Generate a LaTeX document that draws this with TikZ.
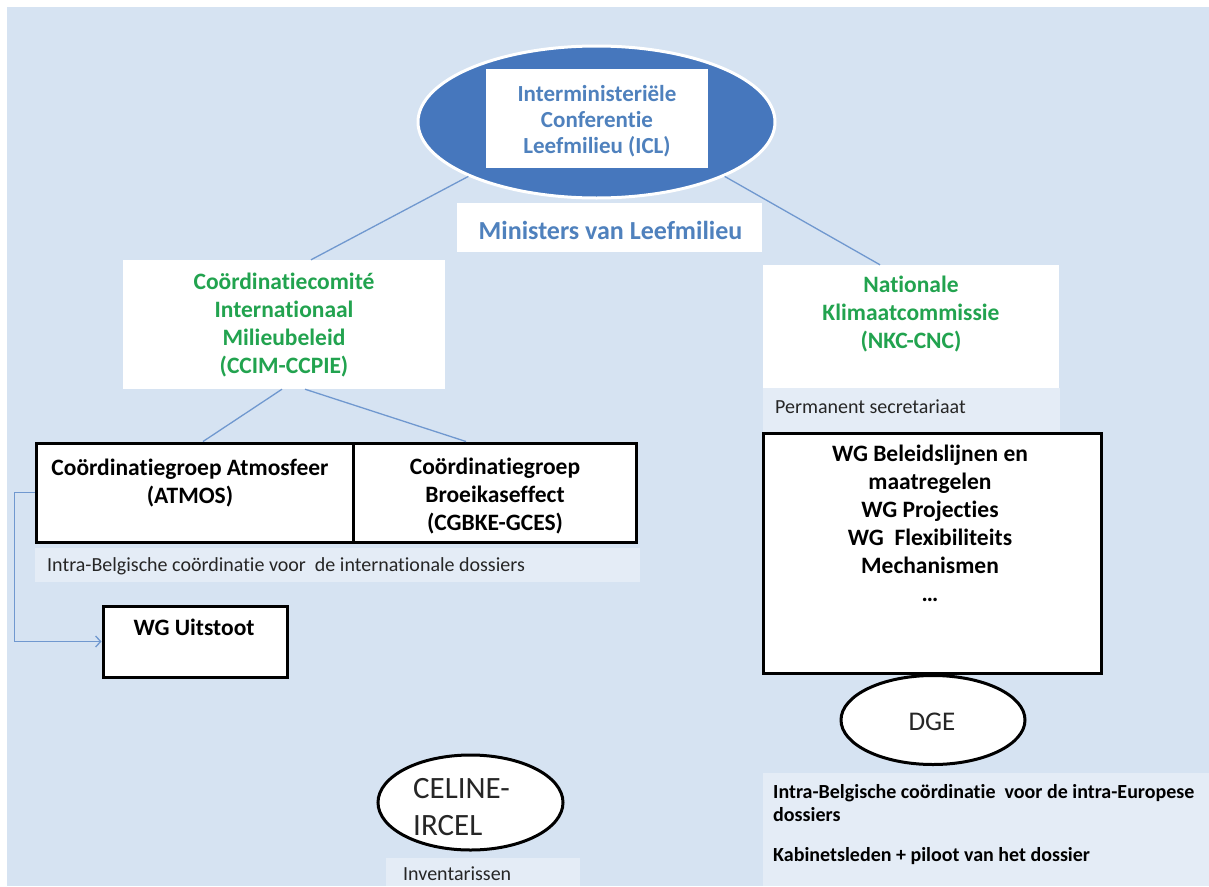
\documentclass[tikz,border=0pt]{standalone}
\usepackage{fontspec}
\setmainfont{Carlito}[Ligatures=NoCommon]
\usetikzlibrary{shapes.geometric,arrows.meta}
\definecolor{bgblue}{HTML}{D6E3F2}
\definecolor{ellblue}{HTML}{4677BD}
\definecolor{tblue}{HTML}{4F81BD}
\definecolor{tgreen}{HTML}{22A34F}
\definecolor{lblue}{HTML}{7098CF}
\definecolor{dgray}{HTML}{262626}
\begin{document}
\begin{tikzpicture}[x=1pt,y=-1pt,
  blackbox/.style={draw=black, line width=3pt, fill=white, inner sep=0pt},
  whitebox/.style={fill=white, inner sep=0pt},
  oval/.style={ellipse, draw=black, line width=3pt, fill=white, inner sep=0pt},
  band/.style={fill=white, opacity=0.35},
  conn/.style={draw=lblue, line width=1.3pt},
  bigbold/.style={font=\fontsize{23.5}{28}\selectfont\bfseries, align=center, inner sep=0pt},
  small/.style={font=\fontsize{20}{24}\selectfont, text=dgray, inner sep=0pt},
  smallbold/.style={font=\fontsize{20}{24}\selectfont\bfseries, text=black, inner sep=0pt}]
\useasboundingbox (0,0) rectangle (1209,886);
\fill[white] (0,0) rectangle (1209,886);
\fill[bgblue] (7,7) rectangle (1209,886);
% light bands
\fill[band] (35,548) rectangle (640,582);
\fill[band] (763,388) rectangle (1060,433);
\fill[band] (386,858) rectangle (580,886);
\fill[band] (763,773) rectangle (1209,886);

% top ellipse
\node[ellipse, fill=ellblue, draw=white, line width=3pt, minimum width=357pt, minimum height=152pt, inner sep=0pt] (icl) at (596.5,122) {};
\node[whitebox, minimum width=222pt, minimum height=99pt] (iclbox) at (597,118.5) {};
\node[bigbold, text=tblue, font=\fontsize{23}{26}\selectfont\bfseries] (iclT) at (597,121) {Interministeriële\\Conferentie\\Leefmilieu (ICL)};
\node[whitebox, minimum width=305pt, minimum height=49pt] (min) at (609.5,227.5) {};
\node[anchor=base, inner sep=0pt, text=tblue, font=\fontsize{26}{30}\selectfont\bfseries] (minT) at (610.5,239.3) {Ministers van Leefmilieu};

% second level
\node[whitebox, minimum width=322pt, minimum height=129pt] (ccim) at (284,324.5) {};
\node[bigbold, text=tgreen] (ccimT) at (284,325) {Coördinatiecomité\\Internationaal\\Milieubeleid\\(CCIM-CCPIE)};
\node[whitebox, minimum width=296pt, minimum height=123pt] (nkc) at (911,326.5) {};
\node[bigbold, text=tgreen] (nkcT) at (911,314) {Nationale\\Klimaatcommissie\\(NKC-CNC)};
\node[small, anchor=base west] (perm) at (775,413.4) {Permanent secretariaat};

% working groups
\node[blackbox, minimum width=317pt, minimum height=99pt] (atmos) at (194.5,492.5) {};
\node[blackbox, minimum width=283pt, minimum height=99pt] (cgbke) at (494.5,492.5) {};
\node[bigbold] (atmosT) at (190,483) {Coördinatiegroep Atmosfeer\\(ATMOS)};
\node[bigbold] (cgbkeT) at (495,496) {Coördinatiegroep\\Broeikaseffect\\(CGBKE-GCES)};
\node[small, anchor=base west] (intra) at (47,571.4) {Intra-Belgische coördinatie voor~ de internationale dossiers};

\node[blackbox, minimum width=338pt, minimum height=240pt] (wg) at (932,553) {};
\node[bigbold] (wgT) at (930,523) {WG Beleidslijnen en\\maatregelen\\WG Projecties\\WG~ Flexibiliteits\\Mechanismen\\…};

\node[blackbox, minimum width=184pt, minimum height=71pt] (uit) at (195,641.5) {};
\node[anchor=base, inner sep=0pt, font=\fontsize{23.5}{28}\selectfont\bfseries] (uitT) at (194,635.5) {WG Uitstoot};

% ovals
\node[oval, minimum width=184pt, minimum height=89pt] (dge) at (933,720) {};
\node[anchor=base, inner sep=0pt, text=dgray, font=\fontsize{27}{32}\selectfont] (dgeT) at (932,730.6) {DGE};
\node[oval, minimum width=185pt, minimum height=95pt] (celine) at (470.5,802.5) {};
\node[anchor=base west, inner sep=0pt, text=dgray, font=\fontsize{31}{37}\selectfont] (celT1) at (413,798) {CELINE-};
\node[anchor=base west, inner sep=0pt, text=dgray, font=\fontsize{31}{37}\selectfont] (celT2) at (413,835) {IRCEL};
\node[small, anchor=base west] (inv) at (403,880.4) {Inventarissen};

% bottom right
\node[smallbold, anchor=base west] (br1) at (773,798.4) {Intra-Belgische coördinatie~ voor de intra-Europese};
\node[smallbold, anchor=base west] (br2) at (773,821.4) {dossiers};
\node[smallbold, anchor=base west] (br3) at (773,861.4) {Kabinetsleden + piloot van het dossier};

% connectors
\draw[conn] (icl.203) -- ([xshift=27pt]ccim.north);
\draw[conn] (icl.337) -- ([xshift=-31pt]nkc.north);
\draw[conn] ([xshift=-2pt]ccim.south) -- ([xshift=8.5pt]atmos.north);
\draw[conn] ([xshift=21pt]ccim.south) -- ([xshift=-28.5pt]cgbke.north);
\draw[conn, -{Straight Barb[length=5pt,width=11pt]}] (atmos.west) -- ++(-20,0) |- (uit.west);
\end{tikzpicture}
\end{document}
